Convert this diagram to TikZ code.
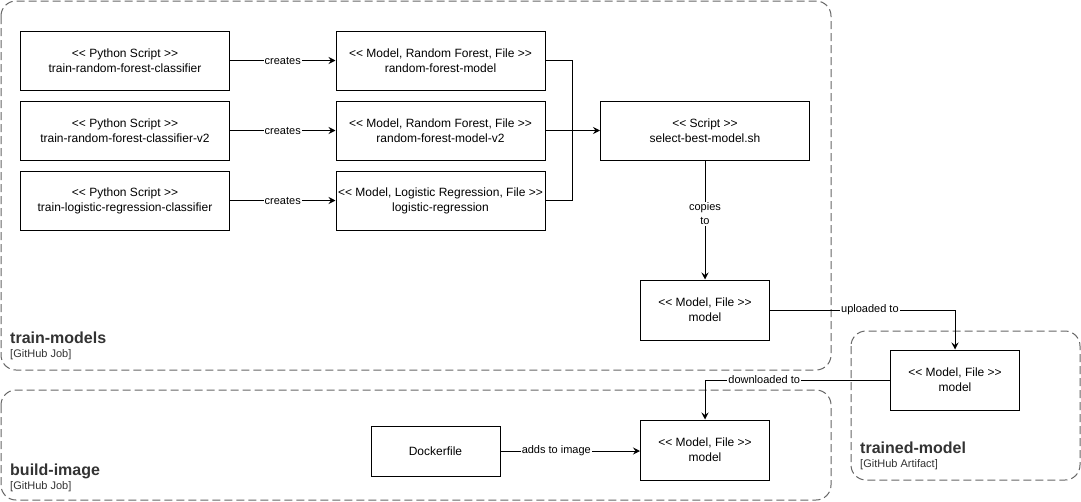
\documentclass[tikz,border=0pt]{standalone}
\usepackage{fontspec}
\setmainfont{Liberation Sans}
\usetikzlibrary{arrows, arrows.meta}
\usetikzlibrary{calc}

\newcommand{\stereo}[1]{<{}< #1 >{}>}

\begin{document}
\begin{tikzpicture}[x=1pt, y=-1pt,
    comp/.style={rectangle, draw, line width=1pt, fill=white, align=center, inner sep=0pt, font=\fontsize{12}{15}\selectfont},
    flow/.style={draw, line width=1pt, -{Stealth[length=7pt, width=7pt, inset=2.5pt]}},
    tag/.style={fill=white, inner sep=1pt, align=center, font=\fontsize{11}{14}\selectfont},
    bound/.style={draw=black!60, line width=1pt, dash pattern=on 8pt off 4pt, rounded corners=15pt},
    boundname/.style={anchor=base west, inner sep=0pt, text=black!80, font=\fontsize{16}{16}\selectfont\bfseries},
    boundkind/.style={anchor=base west, inner sep=0pt, text=black!80, font=\fontsize{11}{11}\selectfont}]
    \useasboundingbox (0,0) rectangle (1081,501);

    % boundaries
    \draw[bound] (1,1) rectangle (831,370);
    \draw[bound] (1,390) rectangle (831,500);
    \draw[bound] (851,331) rectangle (1080,480);
    \node[boundname] (trainname) at (10,343) {train-models};
    \node[boundkind] (trainkind) at (10,357) {[GitHub Job]};
    \node[boundname] (buildname) at (10,475) {build-image};
    \node[boundkind] (buildkind) at (10,489) {[GitHub Job]};
    \node[boundname] (artifactname) at (860,453) {trained-model};
    \node[boundkind] (artifactkind) at (860,467) {[GitHub Artifact]};

    % scripts and models
    \node[comp, minimum width=209pt, minimum height=59pt] (rfc) at (125,60.5) {\stereo{Python Script}\\train-random-forest-classifier};
    \node[comp, minimum width=209pt, minimum height=59pt] (rfc2) at (125,130.5) {\stereo{Python Script}\\train-random-forest-classifier-v2};
    \node[comp, minimum width=209pt, minimum height=59pt] (lrc) at (125,200.5) {\stereo{Python Script}\\train-logistic-regression-classifier};
    \node[comp, minimum width=209pt, minimum height=59pt] (rfm) at (440.5,60.5) {\stereo{Model, Random Forest, File}\\random-forest-model};
    \node[comp, minimum width=209pt, minimum height=59pt] (rfm2) at (440.5,130.5) {\stereo{Model, Random Forest, File}\\random-forest-model-v2};
    \node[comp, minimum width=209pt, minimum height=59pt] (lrm) at (440.5,200.5) {\stereo{Model, Logistic Regression, File}\\logistic-regression};
    \node[comp, minimum width=209pt, minimum height=59pt] (select) at (705,130.5) {\stereo{Script}\\select-best-model.sh};
    \node[comp, minimum width=129pt, minimum height=60pt] (model) at (705,310) {\stereo{Model, File}\\model};
    \node[comp, minimum width=129pt, minimum height=60pt] (artifact) at (955,380) {\stereo{Model, File}\\model};
    \node[comp, minimum width=129pt, minimum height=50pt] (docker) at (435.5,451) {Dockerfile};
    \node[comp, minimum width=129pt, minimum height=60pt] (image) at (705,450) {\stereo{Model, File}\\model};

    % connectors
    \draw[flow] (rfc) -- node[tag] {creates} (rfm);
    \draw[flow] (rfc2) -- node[tag] {creates} (rfm2);
    \draw[flow] (lrc) -- node[tag] {creates} (lrm);
    \coordinate (merge) at (572,130.5);
    \draw[line width=1pt] (rfm.east) -| (merge);
    \draw[line width=1pt] (lrm.east) -| (merge);
    \draw[flow] (rfm2) -- (select);
    \draw[flow] (select) -- node[tag, pos=0.45] {copies\\to} (model);
    \draw[flow] (model.east) -| node[tag, pos=0.27] {uploaded to} (artifact.north);
    \draw[flow] (artifact.west) -| node[tag, pos=0.34] {downloaded to} (image.north);
    \draw[flow] (docker.east) -- node[tag, pos=0.4] {adds to image} (docker.east -| image.west);
  \end{tikzpicture}
\end{document}
